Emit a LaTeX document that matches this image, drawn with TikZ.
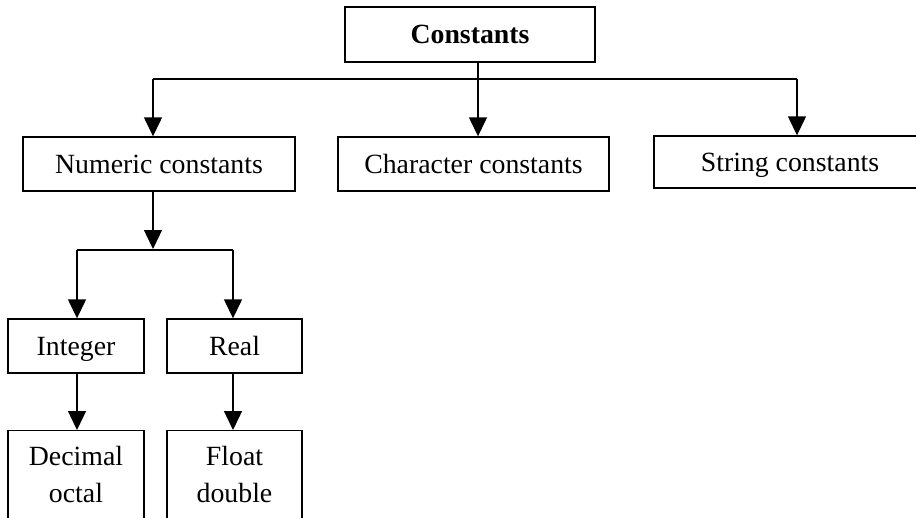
\documentclass[tikz,border=0pt]{standalone}
\usepackage{fontspec}
\setmainfont{Liberation Serif}
\usetikzlibrary{arrows.meta}
\begin{document}
\begin{tikzpicture}[x=1pt,y=-1pt,
  box/.style={draw=black, line width=1.4pt, fill=white, inner sep=0pt,
    font=\fontsize{27.8}{37}\selectfont, text depth=0pt, minimum height=54pt},
  conn/.style={draw=black, line width=1.4pt},
  arr/.style={conn, -{Triangle[length=19pt,width=18pt]}}]
\useasboundingbox (0,0) rectangle (916,517);
\fill[white] (0,0) rectangle (916,517);
\clip (0,0) rectangle (916,517);
% nodes
\node[box, minimum width=250pt, minimum height=55pt] (cons) at (470,34.5) {\bfseries Constants};
\node[box, minimum width=272pt] (num) at (159,164) {Numeric constants};
\node[box, minimum width=271pt] (char) at (473.5,164) {Character constants};
\node[box, minimum width=272pt, minimum height=52pt] (str) at (790,162) {String constants};
\node[box, minimum width=136pt] (int) at (76,346) {Integer};
\node[box, minimum width=135pt] (real) at (234.5,346) {Real};
\node[box, minimum width=136pt, minimum height=120pt, anchor=north,
  label={[anchor=north, inner sep=0pt, yshift=-16pt, align=center,
  font=\fontsize{27.8}{37}\selectfont]north:Decimal\\octal}] (dec) at (76,430) {};
\node[box, minimum width=135pt, minimum height=120pt, anchor=north,
  label={[anchor=north, inner sep=0pt, yshift=-16pt, align=center,
  font=\fontsize{27.8}{37}\selectfont]north:Float\\double}] (flt) at (234.5,430) {};
% junctions
\coordinate (jl) at (153,79);
\coordinate (jc) at (478,79);
\coordinate (jr) at (797,79);
\coordinate (jn) at (153,249);
\coordinate (ji) at (77,250);
\coordinate (jre) at (233,250);
% connectors
\draw[conn] (jl) -- (jr);
\draw[conn] (cons.south -| jc) -- (jc);
\draw[arr] (jc) -- (char.north -| jc);
\draw[arr] (jl) -- (num.north -| jl);
\draw[arr] (jr) -- (str.north -| jr);
\draw[arr] (num.south -| jn) -- (jn);
\draw[conn] (ji) -- (jre);
\draw[arr] (ji) -- (int.north -| ji);
\draw[arr] (jre) -- (real.north -| jre);
\draw[arr] (int.south -| ji) -- (dec.north -| ji);
\draw[arr] (real.south -| jre) -- (flt.north -| jre);
\end{tikzpicture}
\end{document}
